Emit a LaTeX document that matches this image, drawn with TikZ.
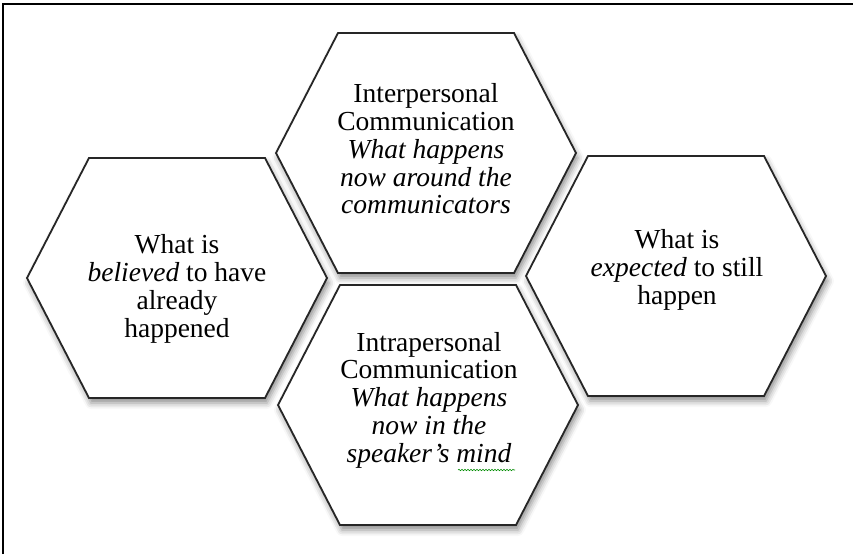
\documentclass[tikz,border=0pt]{standalone}
\usepackage{fontspec}
\setmainfont{Liberation Serif}
\usetikzlibrary{shadows.blur}
\usetikzlibrary{decorations.pathmorphing}
\tikzset{cell/.style = {draw=black!85, line width=1.8pt, fill=white, line join=miter,
                        blur shadow={shadow xshift=2pt, shadow yshift=-5pt,
                                     shadow blur radius=6pt, shadow opacity=45}}}
\tikzset{celltext/.style = {align=center, inner sep=0,
                            font=\fontsize{27.5}{27.8}\selectfont}}
\tikzset{squiggle/.style = {draw=green!55!black, line width=0.6pt, decorate,
                            decoration={snake, amplitude=0.7pt, segment length=3pt}}}
% flat-topped hexagon around (#1,#2)
\newcommand{\hexcell}[2]{%
  \draw [cell, shift={(#1,#2)}] (-150,0) -- (-88,-120) -- (88,-120) -- (150,0)
        -- (88,120) -- (-88,120) -- cycle;}

\begin{document}
\begin{tikzpicture}[x=1pt, y=-1pt]
      \useasboundingbox (0,0) rectangle (853,554);
      \draw [line width=1.6pt] (3,554) -- (3,4) -- (853,4);

      \hexcell{177}{278}
      \hexcell{426}{153}
      \hexcell{676}{276}
      \hexcell{428}{405}

      \node [celltext] (inter) at (426,149)
            {Interpersonal\\Communication\\\textit{What happens}\\\textit{now around the}\\\textit{communicators}};
      \node [celltext] (past) at (177,289)
            {What is\\\textit{believed} to have\\already\\happened};
      \node [celltext] (future) at (677,270)
            {What is\\\textit{expected} to still\\happen};
      \node [celltext] (intra) at (429,400)
            {Intrapersonal\\Communication\\\textit{What happens}\\\textit{now in the}\\\textit{speaker's mind}};

      \draw [squiggle] (458,470) -- (515,470); %spell-check mark
\end{tikzpicture}
\end{document}
